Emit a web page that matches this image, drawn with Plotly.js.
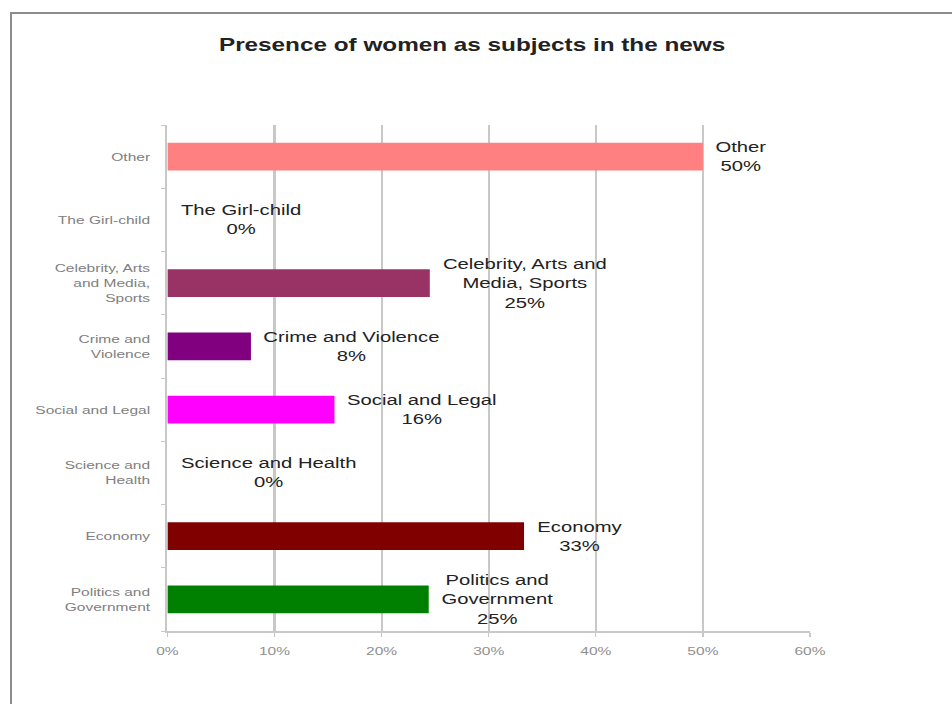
<!DOCTYPE html>
<html>
<head>
<meta charset="utf-8">
<script src="https://cdn.plot.ly/plotly-3.0.1.min.js"></script>
<style>
  html, body { margin: 0; padding: 0; background: #ffffff; overflow: hidden; }
  #frame { position: absolute; left: 10px; top: 12px; width: 960px; height: 700px;
           border-left: 2px solid #8c8c8c; border-top: 2px solid #8c8c8c; box-sizing: border-box; }
  /* the reference rendering is horizontally stretched; reproduce that */
  #chart { position: absolute; left: 0; top: 0; width: 705px; height: 704px;
           transform: scaleX(1.35); transform-origin: 0 0; }
</style>
</head>
<body>
<div id="frame"></div>
<div id="chart"></div>
<script>
// Categories listed bottom-to-top
const categories = [
  "Politics and<br>Government",
  "Economy",
  "Science and<br>Health",
  "Social and Legal",
  "Crime and<br>Violence",
  "Celebrity, Arts<br>and Media,<br>Sports",
  "The Girl-child",
  "Other"
];
const labelNames = [
  "Politics and<br>Government",
  "Economy",
  "Science and Health",
  "Social and Legal",
  "Crime and Violence",
  "Celebrity, Arts and<br>Media, Sports",
  "The Girl-child",
  "Other"
];
const values = [24.4, 33.3, 0, 15.6, 7.8, 24.5, 0, 50];          // percent
const pctLabels = ["25%", "33%", "0%", "16%", "8%", "25%", "0%", "50%"];
const colors = ["#008000", "#800000", "#3366cc", "#ff00ff", "#800080", "#993366", "#3366cc", "#ff8080"];
const xTicks = [0, 10, 20, 30, 40, 50, 60];
const xTickText = ["0%", "10%", "20%", "30%", "40%", "50%", "60%"];

const FONT = "Liberation Sans, Arial, sans-serif";

const trace = {
  type: "bar",
  orientation: "h",
  y: categories,
  x: values,
  width: 0.44,
  marker: { color: colors, line: { width: 0 } },
  hoverinfo: "x+y"
};

const annotations = categories.map((c, i) => ({
  x: values[i],
  y: c,
  xref: "x",
  yref: "y",
  text: labelNames[i] + "<br>" + pctLabels[i],
  showarrow: false,
  xanchor: "left",
  yanchor: "middle",
  align: "center",
  xshift: 7.5,
  font: { family: FONT, size: 15, color: "#222222" }
}));

const layout = {
  width: 705,
  height: 704,
  margin: { l: 124, r: 105, t: 125, b: 73 },
  paper_bgcolor: "rgba(0,0,0,0)",
  plot_bgcolor: "rgba(0,0,0,0)",
  showlegend: false,
  title: {
    text: "<b>Presence of women as subjects in the news</b>",
    font: { family: FONT, size: 18, color: "#222222" },
    x: 0.496, xref: "container", xanchor: "center",
    y: 0.936, yref: "container", yanchor: "middle"
  },
  xaxis: {
    range: [0, 60],
    tickvals: xTicks,
    ticktext: xTickText,
    showgrid: true,
    gridcolor: "#c8c8c8",
    gridwidth: 1.5,
    showline: true,
    linecolor: "#c8c8c8",
    linewidth: 2,
    ticks: "outside",
    ticklen: 4,
    tickwidth: 1,
    tickcolor: "#c8c8c8",
    ticklabelstandoff: 4,
    zeroline: false,
    tickfont: { family: FONT, size: 11.5, color: "#909090" },
    fixedrange: true
  },
  yaxis: {
    type: "category",
    categoryorder: "array",
    categoryarray: categories,
    range: [-0.5, 7.5],
    showgrid: false,
    showline: true,
    linecolor: "#c8c8c8",
    linewidth: 1.5,
    ticks: "outside",
    tickson: "boundaries",
    ticklen: 3.5,
    tickcolor: "#c8c8c8",
    ticklabelstandoff: 9,
    tickfont: { family: FONT, size: 11.5, color: "#808080" },
    fixedrange: true
  },
  annotations: annotations
};

Plotly.newPlot("chart", [trace], layout, { displayModeBar: false, staticPlot: true });
</script>
</body>
</html>
